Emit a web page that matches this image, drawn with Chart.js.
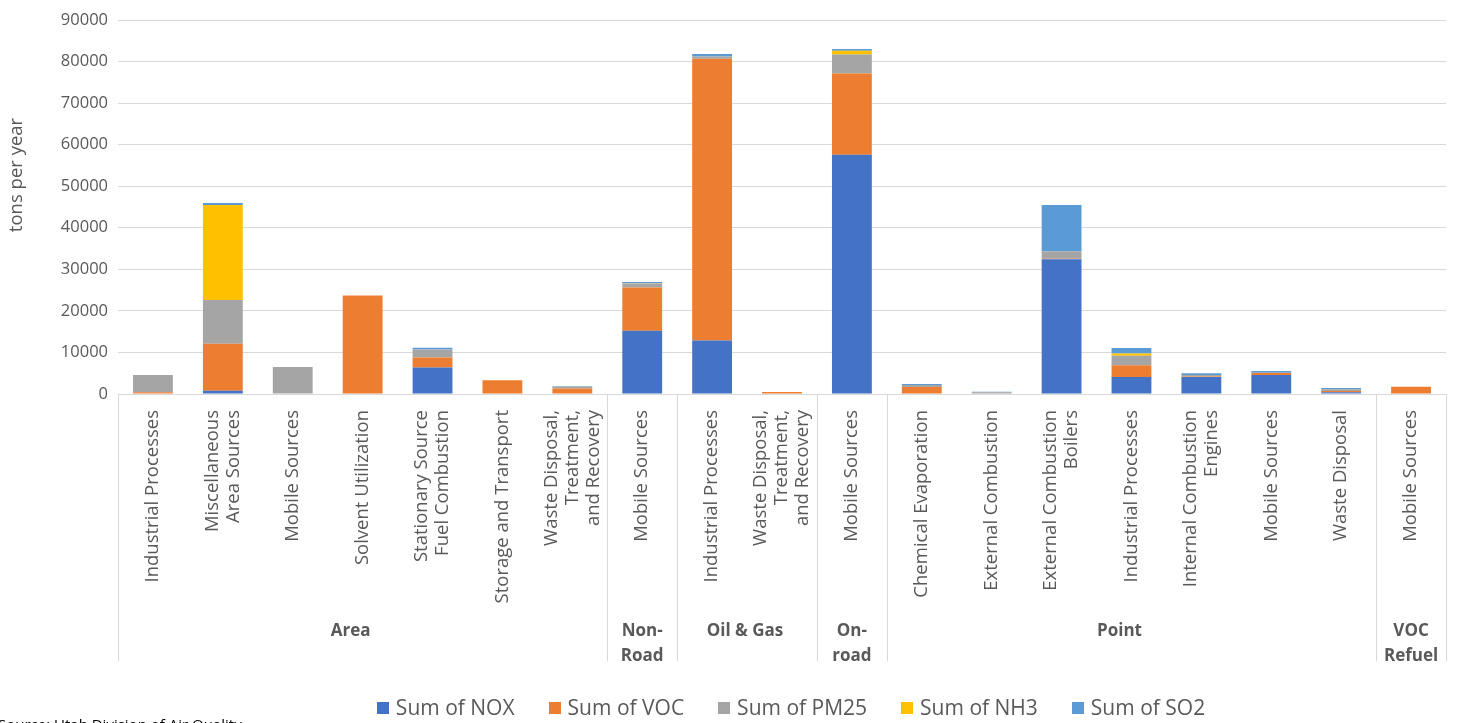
<!DOCTYPE html>
<html>
<head>
<meta charset="utf-8">
<script src="https://cdn.jsdelivr.net/npm/chart.js@4/dist/chart.umd.min.js"></script>
<style>
  html, body { margin: 0; padding: 0; background: #ffffff; }
  #wrap { width: 1458px; height: 723px; position: relative; }
</style>
</head>
<body>
<div id="wrap"><canvas id="c" width="1458" height="723"></canvas></div>
<script>
// Source categories (inner axis level); "\n" splits a label into lines
const categories = [
  'Industrial Processes', 'Miscellaneous\nArea Sources', 'Mobile Sources', 'Solvent Utilization',
  'Stationary Source\nFuel Combustion', 'Storage and Transport', 'Waste Disposal,\nTreatment,\nand Recovery',
  'Mobile Sources',
  'Industrial Processes', 'Waste Disposal,\nTreatment,\nand Recovery',
  'Mobile Sources',
  'Chemical Evaporation', 'External Combustion', 'External Combustion\nBoilers', 'Industrial Processes',
  'Internal Combustion\nEngines', 'Mobile Sources', 'Waste Disposal',
  'Mobile Sources'
];

// Sector groups (outer axis level) and how many categories each one spans
const groupNames = ['Area', 'Non-\nRoad', 'Oil & Gas', 'On-\nroad', 'Point', 'VOC\nRefuel'];
const groupSizes = [7, 1, 2, 1, 7, 1];

// Emissions, tons per year
const nox  = [0, 800, 0, 0, 6400, 0, 100, 15200, 12900, 0, 57600, 0, 150, 32400, 4100, 4100, 4550, 400, 0];
const voc  = [400, 11300, 0, 23700, 2400, 3300, 1250, 10450, 67800, 500, 19550, 1700, 0, 150, 2800, 100, 500, 350, 1750];
const pm25 = [4150, 10500, 6500, 0, 1900, 0, 450, 950, 500, 0, 4550, 450, 250, 1800, 2300, 400, 50, 400, 0];
const nh3  = [0, 22860, 0, 0, 0, 0, 0, 50, 0, 0, 900, 0, 0, 0, 550, 0, 0, 0, 0];
const so2  = [50, 500, 0, 0, 400, 0, 100, 300, 600, 0, 450, 250, 150, 11150, 1300, 400, 450, 300, 0];

const seriesNames = ['Sum of NOX', 'Sum of VOC', 'Sum of PM25', 'Sum of NH3', 'Sum of SO2'];
const seriesColors = ['#4472C4', '#ED7D31', '#A5A5A5', '#FFC000', '#5B9BD5'];

const yTicks = { min: 0, max: 90000, step: 10000 };

const TEXT = '#595959';
const GRID = '#D9D9D9';
const FONT = '"Open Sans", "Noto Sans", sans-serif';

// Draws the two-level category axis, axis title, legend and source note
const decorations = {
  id: 'decorations',
  afterDraw(chart) {
    const ctx = chart.ctx;
    const x = chart.scales.x;
    const area = chart.chartArea;
    ctx.save();

    // inner labels, rotated to read upwards, right-aligned against the axis
    const labelTop = area.bottom + 16;
    const lh = 21;
    ctx.fillStyle = TEXT;
    ctx.font = '18.5px ' + FONT;
    ctx.textAlign = 'right';
    ctx.textBaseline = 'middle';
    categories.forEach((label, i) => {
      const px = x.getPixelForValue(i);
      const lines = label.split('\n');
      ctx.save();
      ctx.translate(px, labelTop);
      ctx.rotate(-Math.PI / 2);
      lines.forEach((ln, j) => {
        ctx.fillText(ln, 0, (j - (lines.length - 1) / 2) * lh);
      });
      ctx.restore();
    });

    // group dividers and outer labels
    const divBottom = 661;
    const edgeAt = (idx) => {
      if (idx <= 0) return area.left;
      if (idx >= categories.length) return area.right;
      return (x.getPixelForValue(idx - 1) + x.getPixelForValue(idx)) / 2;
    };
    ctx.strokeStyle = GRID;
    ctx.lineWidth = 1;
    let start = 0;
    const bounds = [0];
    groupSizes.forEach(n => { start += n; bounds.push(start); });
    bounds.forEach(b => {
      const ex = Math.round(edgeAt(b)) + 0.5;
      ctx.beginPath();
      ctx.moveTo(ex, area.bottom);
      ctx.lineTo(ex, divBottom);
      ctx.stroke();
    });

    ctx.font = 'bold 17px ' + FONT;
    ctx.textAlign = 'center';
    ctx.textBaseline = 'middle';
    ctx.fillStyle = TEXT;
    groupNames.forEach((name, g) => {
      const l = edgeAt(bounds[g]);
      const r = edgeAt(bounds[g + 1]);
      const cx = (l + r) / 2 - 2 * (groupSizes[g] - 1);
      name.split('\n').forEach((ln, j) => {
        ctx.fillText(ln, cx, 631 + j * 25);
      });
    });

    // y-axis title
    ctx.save();
    ctx.translate(17, 175);
    ctx.rotate(-Math.PI / 2);
    ctx.font = '18.5px ' + FONT;
    ctx.textAlign = 'center';
    ctx.textBaseline = 'middle';
    ctx.fillText('tons per year', 0, 0);
    ctx.restore();

    // legend
    ctx.font = '21px ' + FONT;
    ctx.textBaseline = 'middle';
    ctx.textAlign = 'left';
    const box = 12, gapText = 7, gapItem = 34, ly = 708;
    const widths = chart.data.datasets.map(ds => box + gapText + ctx.measureText(ds.label).width);
    const total = widths.reduce((a, b) => a + b, 0) + gapItem * (widths.length - 1);
    let lx = 791 - total / 2;
    chart.data.datasets.forEach((ds, i) => {
      ctx.fillStyle = ds.backgroundColor;
      ctx.fillRect(Math.round(lx), ly - box / 2, box, box);
      ctx.fillStyle = TEXT;
      ctx.fillText(ds.label, lx + box + gapText, ly + 1);
      lx += widths[i] + gapItem;
    });

    // source note
    ctx.font = '15px ' + FONT;
    ctx.fillStyle = '#000000';
    ctx.textBaseline = 'alphabetic';
    ctx.fillText('Source: Utah Division of Air Quality', -2, 730);

    ctx.restore();
  }
};

const seriesData = [nox, voc, pm25, nh3, so2];

new Chart(document.getElementById('c'), {
  type: 'bar',
  data: {
    labels: categories.map(c => c.replace(/\n/g, ' ')),
    datasets: seriesNames.map((name, i) => ({
      label: name,
      data: seriesData[i],
      backgroundColor: seriesColors[i],
      borderWidth: 0,
      barPercentage: 0.57,
      categoryPercentage: 1.0
    }))
  },
  options: {
    responsive: false,
    animation: false,
    devicePixelRatio: 1,
    layout: { padding: { left: 0, right: 12, top: 20, bottom: 0 } },
    plugins: {
      legend: { display: false },
      tooltip: { enabled: false },
      title: { display: false }
    },
    scales: {
      x: {
        stacked: true,
        grid: { display: false, drawTicks: false },
        border: { display: false },
        ticks: { display: false },
        afterFit(scale) { scale.height = 329; }
      },
      y: {
        stacked: true,
        min: yTicks.min,
        max: yTicks.max,
        grid: { color: GRID, lineWidth: 1, drawTicks: false },
        border: { display: false },
        ticks: {
          stepSize: yTicks.step,
          padding: 10,
          color: TEXT,
          font: { family: FONT, size: 16.5 },
          callback: (v) => String(v)
        },
        afterFit(scale) { scale.width = 118; }
      }
    }
  },
  plugins: [decorations]
});
</script>
</body>
</html>
